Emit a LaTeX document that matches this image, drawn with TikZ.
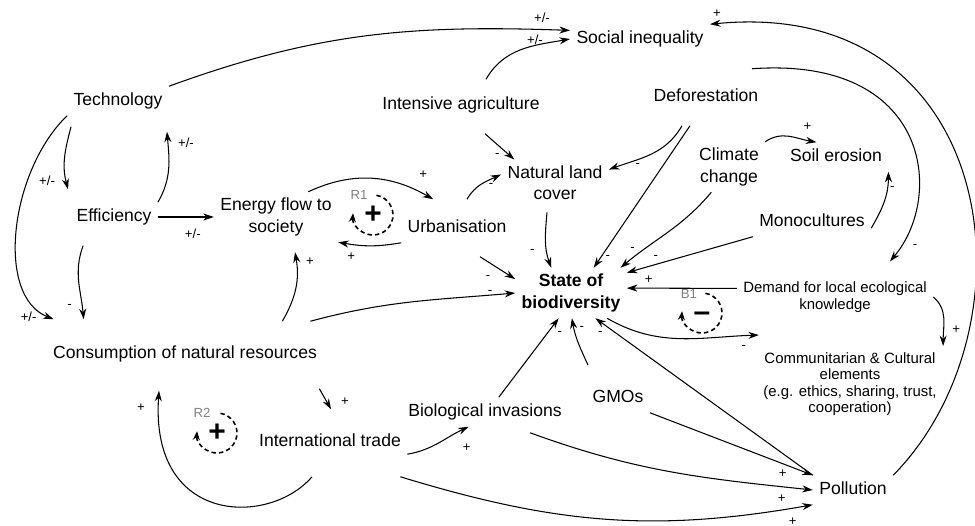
\documentclass[tikz,border=0pt]{standalone}
\usepackage{fontspec}
\setmainfont{Liberation Sans}
\usetikzlibrary{arrows.meta}

\begin{document}
\begin{tikzpicture}[x=0.2mm, y=0.2mm,
    var/.style={font=\fontsize{10}{12}\selectfont, inner sep=3.5pt, text height=7.3pt, text depth=2.1pt},
    varml/.style={font=\fontsize{10}{12}\selectfont, inner sep=3.5pt, align=center},
    varsmall/.style={font=\fontsize{8.5}{9.3}\selectfont, inner sep=3.5pt, align=center},
    sign/.style={font=\fontsize{7.5}{8}\selectfont, inner sep=0pt},
    causal/.style={black, line width=0.6pt, -{Stealth[length=6pt, width=4pt]}},
    loopline/.style={black, line width=0.9pt, dash pattern=on 2.5pt off 1.8pt, -{Stealth[length=5pt, width=4pt]}},
    loopsign/.style={font=\fontsize{17}{17}\selectfont\bfseries, inner sep=0pt},
    looptag/.style={font=\fontsize{7.5}{8}\selectfont, text=gray, inner sep=0pt}]

    \useasboundingbox (0,0) rectangle (975,526);

    % factors
    \node[var] (tech) at (118,425) {Technology};
    \node[var] (eff) at (114,309) {Efficiency};
    \node[varml] (energy) at (276,309) {Energy flow to\\society};
    \node[var] (urb) at (457,298) {Urbanisation};
    \node[var] (agri) at (461,421) {Intensive agriculture};
    \node[var] (soc) at (640,487) {Social inequality};
    \node[var] (defor) at (706,429) {Deforestation};
    \node[varml] (land) at (555,343) {Natural land\\cover};
    \node[varml] (climate) at (729,359) {Climate\\change};
    \node[var] (soil) at (836,369) {Soil erosion};
    \node[var] (mono) at (812,304) {Monocultures};
    \node[varml, font=\fontsize{10}{12}\selectfont\bfseries] (state) at (571,233) {State of\\biodiversity};
    \node[varsmall] (demand) at (835,229) {Demand for local ecological\\knowledge};
    \node[varsmall] (comm) at (850,142) {Communitarian \& Cultural\\elements\\(e.g. ethics, sharing, trust,\\cooperation)};
    \node[var] (cons) at (185,172) {Consumption of natural resources};
    \node[var] (trade) at (330,84) {International trade};
    \node[var] (bio) at (485,114) {Biological invasions};
    \node[var] (gmo) at (618,128) {GMOs};
    \node[var] (poll) at (853,36) {Pollution};

    % links
    \draw[causal] (tech.north east) to[out=20, in=178] (soc.173) node[sign, shift={(-28,13)}] {+/-};
    \draw[causal] ([shift={(25,11)}]agri.north) to[out=60, in=190] (soc.west) node[sign, shift={(-35,-1)}] {+/-};
    \draw[causal] (poll.north east) .. controls (1040,200) and (1000,530) .. (soc.north east) node[sign, shift={(7,11)}] {+};
    \draw[causal] ([shift={(42,-15)}]soc.south east) .. controls (930,470) and (945,330) .. ([shift={(55,14)}]demand.north) node[sign, shift={(25,15)}] {-};
    \draw[causal] ([shift={(4,-11)}]tech.south west) to[out=-105, in=105] ([shift={(-2,13)}]eff.north west) node[sign, shift={(-21,8)}] {+/-};
    \draw[causal] (eff.north east) to[out=60, in=-85] ([shift={(-2,-16)}]tech.south east) node[sign, shift={(19,-11)}] {+/-};
    \draw[causal] (tech.south west) .. controls (10,355) and (-5,230) .. ([shift={(7,20)}]cons.north west) node[sign, shift={(-25,2)}] {+/-};
    \draw[causal] ([shift={(13,-14)}]eff.south west) to[out=250, in=95] ([shift={(37,20)}]cons.north west) node[sign, shift={(-14,13)}] {-};
    \draw[causal] (eff.east) -- (energy.west) node[sign, shift={(-21,-17)}] {+/-};
    \draw[causal] (energy.38) to[out=25, in=150] ([shift={(32,14)}]urb.north west) node[sign, shift={(-10,25)}] {+};
    \draw[causal] (urb.south west) to[out=190, in=-10] (energy.south east) node[sign, shift={(13,-14)}] {+};
    \draw[causal] ([shift={(-41,18)}]cons.north east) to[out=60, in=-80] ([shift={(19,-10)}]energy.south) node[sign, shift={(15,-9)}] {+};
    \draw[causal] ([shift={(-13,18)}]cons.north east) to[out=15, in=185] (state.west) node[sign, shift={(-25,1)}] {-};
    \draw[causal] ([shift={(23,-14)}]urb.south) -- (state.166) node[sign, shift={(-27,2)}] {-};
    \draw[causal] ([shift={(10,14)}]urb.north) to[out=60, in=205] (land.171) node[sign, shift={(-10,-11)}] {-};
    \draw[causal] ([shift={(24,-14)}]agri.south) -- (land.150) node[sign, shift={(-17,4)}] {-};
    \draw[causal] ([shift={(-24,-14)}]defor.south) to[out=240, in=20] (land.14) node[sign, shift={(29,4)}] {-};
    \draw[causal] ([shift={(-16,-14)}]defor.south) -- (state.48) node[sign, shift={(14,10)}] {-};
    \draw[causal] ([shift={(-8,-6)}]land.south) to[out=-95, in=110] (state.128) node[sign, shift={(-19,16)}] {-};
    \draw[causal] (climate.235) to[out=230, in=40] (state.27) node[sign, shift={(12,18)}] {-};
    \draw[causal] (mono.south west) -- (state.20) node[sign, shift={(29,15)}] {-};
    \draw[causal] (climate.north east) to[out=35, in=170] (soil.143) node[sign, shift={(-9,16)}] {+};
    \draw[causal] (mono.-6) to[out=60, in=-90] (soil.south east) node[sign, shift={(4,-17)}] {-};
    \draw[causal] (demand.175) -- (state.5) node[sign, shift={(22,8)}] {+};
    \draw[causal] (state.-35) to[out=-30, in=182] ([shift={(2,11)}]comm.north west) node[sign, shift={(-15,-12)}] {-};
    \draw[causal] (demand.east) to[out=-40, in=90] (comm.north east) node[sign, shift={(13,16)}] {+};
    \draw[causal] (bio.47) -- (state.244) node[sign, shift={(1,-15)}] {-};
    \draw[causal] ([shift={(2,18)}]gmo.north west) to[out=115, in=-80] (state.272) node[sign, shift={(10,-10)}] {-};
    \draw[causal] (poll.north west) -- (state.-46) node[sign, shift={(5,-15)}] {-};
    \draw[causal] (gmo.south east) -- (poll.north west) node[sign, shift={(-30,2)}] {+};
    \draw[causal] ([shift={(45,-6)}]bio.south) to[out=-20, in=174] (poll.west) node[sign, shift={(-31,-9)}] {+};
    \draw[causal] ([shift={(-7,-20)}]trade.south east) to[out=-17, in=190] (poll.south west) node[sign, shift={(-20,-17)}] {+};
    \draw[causal] (trade.-9) to[out=10, in=205] (bio.222) node[sign, shift={(-2,-21)}] {+};
    \draw[causal] ([shift={(-4,-20)}]cons.south east) -- ([shift={(1,18)}]trade.north) node[sign, shift={(14,8)}] {+};
    \draw[causal] ([shift={(-18,-20)}]trade.south) .. controls (270,0) and (150,0) .. ([shift={(-26,-22)}]cons.south) node[sign, shift={(-18,-17)}] {+};

    % loops
    \coordinate (r1c) at (373,311);
    \coordinate (r2c) at (217,93);
    \coordinate (b1c) at (702,213);
    \node[loopsign] (r1) at (r1c) {+};
    \node[loopsign] (r2) at (r2c) {+};
    \node[loopsign] (b1) at ([yshift=-2pt]b1c) {\textendash};
    \node[looptag] (r1tag) at (359,331) {R1};
    \node[looptag] (r2tag) at (202,113) {R2};
    \node[looptag] (b1tag) at (689,232) {B1};
    \draw[loopline] (r1c) ++(80:20) arc[start angle=80, end angle=-185, radius=20];
    \draw[loopline] (r2c) ++(80:20) arc[start angle=80, end angle=-185, radius=20];
    \draw[loopline] (b1c) ++(80:20) arc[start angle=80, end angle=-185, radius=20];

\end{tikzpicture}
\end{document}
